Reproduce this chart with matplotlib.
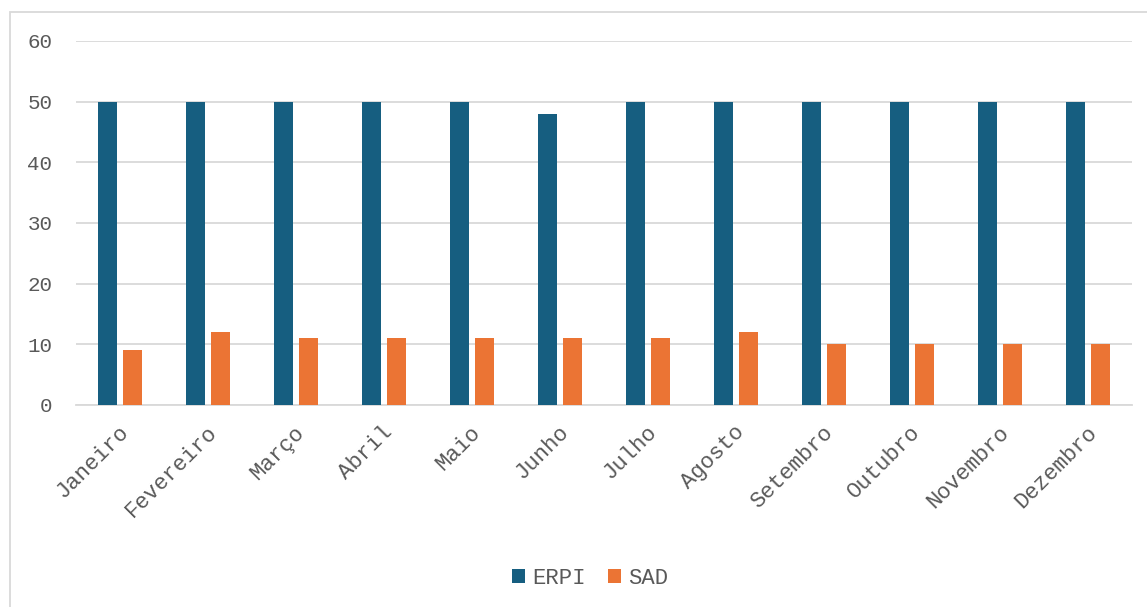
import numpy as np
import matplotlib.pyplot as plt
from matplotlib.patches import Rectangle

meses = ['Janeiro', 'Fevereiro', 'Março', 'Abril', 'Maio', 'Junho',
         'Julho', 'Agosto', 'Setembro', 'Outubro', 'Novembro', 'Dezembro']
erpi = [50, 50, 50, 50, 50, 48, 50, 50, 50, 50, 50, 50]
sad = [9, 12, 11, 11, 11, 11, 11, 12, 10, 10, 10, 10]

plt.rcParams['font.family'] = ['Liberation Mono', 'DejaVu Sans']

fig = plt.figure(figsize=(11.47, 6.07), dpi=100)
ax = fig.add_axes([76/1147, 1-405/607, 1056/1147, 364/607])

x = np.arange(len(meses))
w = 0.227
ax.bar(x - 0.142, erpi, w, color='#165E80', label='ERPI', zorder=3)
ax.bar(x + 0.142, sad, w, color='#EB7434', label='SAD', zorder=3)

ax.set_xlim(-0.5, len(meses) - 0.5)
ax.set_ylim(0, 60)
ax.set_yticks(range(0, 61, 10))
ax.yaxis.grid(True, color='#D9D9D9', linewidth=1.3, zorder=0)
ax.set_axisbelow(True)
for s in ['top', 'right', 'left']:
    ax.spines[s].set_visible(False)
ax.spines['bottom'].set_color('#D9D9D9')
ax.spines['bottom'].set_linewidth(1.3)
ax.tick_params(axis='both', length=0, colors='#595959')
ax.tick_params(axis='y', pad=17, labelsize=15)
ax.set_xticks(x - 0.02)
ax.set_xticklabels(meses, rotation=45, ha='right', rotation_mode='anchor')
ax.tick_params(axis='x', pad=12, labelsize=16)

ax.legend(loc='center', bbox_to_anchor=(590/1147, 1 - 578/607), bbox_transform=fig.transFigure,
          ncol=2, frameon=False, fontsize=16, handlelength=0.6, handleheight=0.6,
          handletextpad=0.3, columnspacing=1.0, labelcolor='#595959')

# moldura do gráfico
fig.patches.append(Rectangle((10/1147, -0.01), 1.02, 1 - 12/607 + 0.01, transform=fig.transFigure,
                             fill=False, edgecolor='#D9D9D9', linewidth=1.3))

fig.savefig('out.png', dpi=100)
